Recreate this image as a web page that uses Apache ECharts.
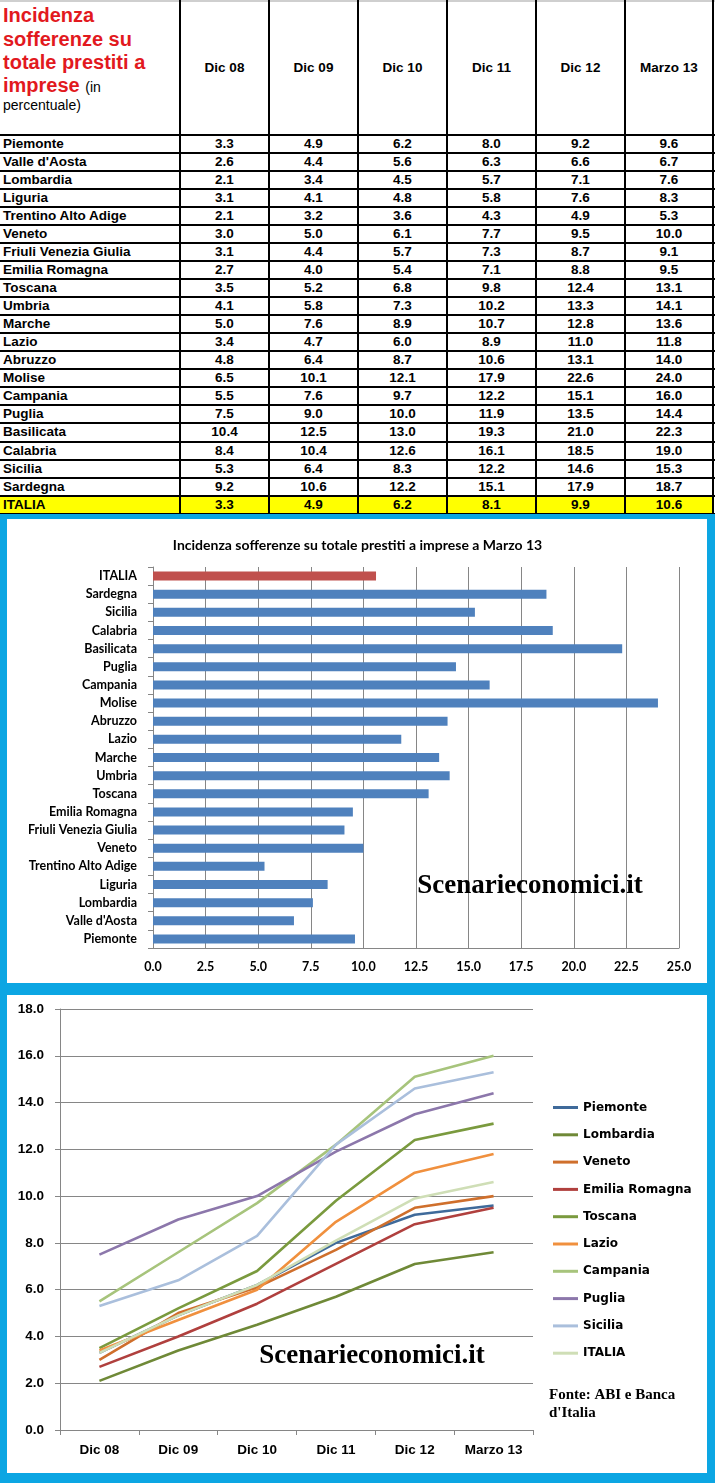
<!DOCTYPE html>
<html>
<head>
<meta charset="utf-8">
<script src="https://cdn.jsdelivr.net/npm/echarts@6.0.0/dist/echarts.min.js"></script>
<style>
  html, body { margin:0; padding:0; background:#fff; }
  #page { position:relative; width:715px; height:1483px; overflow:hidden; }
  #tbl { position:absolute; left:0; top:0; width:715px; height:514px; background:#fff; font-family:'Liberation Sans', Arial, sans-serif; }
  #chart { position:absolute; left:0; top:514px; width:715px; height:969px; }
  .ln { position:absolute; background:#000; }
  .tx { position:absolute; white-space:nowrap; font-weight:bold; font-size:13.5px; color:#000; }
</style>
</head>
<body>
<div id="page">
  <div id="tbl"></div>
  <div id="chart"></div>
</div>
<script>
// ---------------- DATA ----------------
const periods = ['Dic 08', 'Dic 09', 'Dic 10', 'Dic 11', 'Dic 12', 'Marzo 13'];
const regions = ['Piemonte', "Valle d'Aosta", 'Lombardia', 'Liguria', 'Trentino Alto Adige', 'Veneto',
  'Friuli Venezia Giulia', 'Emilia Romagna', 'Toscana', 'Umbria', 'Marche', 'Lazio', 'Abruzzo', 'Molise',
  'Campania', 'Puglia', 'Basilicata', 'Calabria', 'Sicilia', 'Sardegna', 'ITALIA'];
const dic08 = [3.3, 2.6, 2.1, 3.1, 2.1, 3.0, 3.1, 2.7, 3.5, 4.1, 5.0, 3.4, 4.8, 6.5, 5.5, 7.5, 10.4, 8.4, 5.3, 9.2, 3.3];
const dic09 = [4.9, 4.4, 3.4, 4.1, 3.2, 5.0, 4.4, 4.0, 5.2, 5.8, 7.6, 4.7, 6.4, 10.1, 7.6, 9.0, 12.5, 10.4, 6.4, 10.6, 4.9];
const dic10 = [6.2, 5.6, 4.5, 4.8, 3.6, 6.1, 5.7, 5.4, 6.8, 7.3, 8.9, 6.0, 8.7, 12.1, 9.7, 10.0, 13.0, 12.6, 8.3, 12.2, 6.2];
const dic11 = [8.0, 6.3, 5.7, 5.8, 4.3, 7.7, 7.3, 7.1, 9.8, 10.2, 10.7, 8.9, 10.6, 17.9, 12.2, 11.9, 19.3, 16.1, 12.2, 15.1, 8.1];
const dic12 = [9.2, 6.6, 7.1, 7.6, 4.9, 9.5, 8.7, 8.8, 12.4, 13.3, 12.8, 11.0, 13.1, 22.6, 15.1, 13.5, 21.0, 18.5, 14.6, 17.9, 9.9];
const mar13 = [9.6, 6.7, 7.6, 8.3, 5.3, 10.0, 9.1, 9.5, 13.1, 14.1, 13.6, 11.8, 14.0, 24.0, 16.0, 14.4, 22.3, 19.0, 15.3, 18.7, 10.6];
const barXTicks = [0, 2.5, 5, 7.5, 10, 12.5, 15, 17.5, 20, 22.5, 25];
const lineYTicks = [0, 2, 4, 6, 8, 10, 12, 14, 16, 18];
const lineRegions = ['Piemonte', 'Lombardia', 'Veneto', 'Emilia Romagna', 'Toscana', 'Lazio', 'Campania', 'Puglia', 'Sicilia', 'ITALIA'];
const tableTitle = ['Incidenza', 'sofferenze su', 'totale prestiti a', 'imprese'];
const tableTitleNote = ['(in', 'percentuale)'];
const barTitle = 'Incidenza sofferenze su totale prestiti a imprese a Marzo 13';
const watermark = 'Scenarieconomici.it';
const sourceNote = ['Fonte: ABI e Banca', "d'Italia"];

// ---------------- STYLE ----------------
const lineColors = ['#3f6a9a', '#6f8937', '#cf6f2c', '#b0403e', '#7a9a3e', '#f0903e', '#a7c47c', '#8c77ab', '#aabfdc', '#cfdeb6'];
const columns = [periods, dic08, dic09, dic10, dic11, dic12, mar13];

// ---------------- TABLE (HTML) ----------------
(function buildTable() {
  const t = document.getElementById('tbl');
  const vx = [180, 269, 358, 447, 536, 625, 713];
  const rowTop = 135, rowH = 18.03, nRows = regions.length;
  function add(cls, css, html) {
    const d = document.createElement('div');
    d.className = cls;
    Object.assign(d.style, css);
    if (html != null) d.innerHTML = html;
    t.appendChild(d);
    return d;
  }
  add('', {position:'absolute', left:'0px', top:(rowTop + (nRows - 1) * rowH) + 'px', width:'713px', height:rowH + 'px', background:'#ffff00'});
  add('ln', {left:'0px', top:'0px', width:'715px', height:'2px', background:'#cfcfcf'});
  for (let k = 0; k <= nRows; k++) {
    const y = rowTop + k * rowH;
    add('ln', {left:'0px', top:(y - 1) + 'px', width:'715px', height:'2px'});
  }
  vx.forEach(x => add('ln', {left:(x - 1) + 'px', top:'0px', width:'2px', height:'514px'}));
  const tc = [15, 38.5, 62, 85];
  tableTitle.forEach((s, i) => {
    let html = s;
    if (i === 3) html = s + ' <span style="font-size:14px;font-weight:normal;color:#000">' + tableTitleNote[0] + '</span>';
    add('tx', {left:'3px', top:(tc[i] - 12) + 'px', lineHeight:'24px', fontSize:'20px', color:'#e2191e'}, html);
  });
  add('tx', {left:'3px', top:(105 - 8) + 'px', lineHeight:'16px', fontSize:'14px', fontWeight:'normal'}, tableTitleNote[1]);
  periods.forEach((p, j) => {
    add('tx', {left:vx[j] + 'px', width:(vx[j + 1] - vx[j]) + 'px', textAlign:'center', top:(68 - 9) + 'px', lineHeight:'18px'}, p);
  });
  regions.forEach((r, i) => {
    const cy = rowTop + i * rowH + rowH / 2;
    add('tx', {left:'3px', top:(cy - 9) + 'px', lineHeight:'18px'}, r);
    for (let j = 1; j < columns.length; j++) {
      add('tx', {left:vx[j - 1] + 'px', width:(vx[j] - vx[j - 1]) + 'px', textAlign:'center', top:(cy - 9) + 'px', lineHeight:'18px'},
        columns[j][i].toFixed(1));
    }
  });
})();

// ---------------- CHARTS ----------------
const chart = echarts.init(document.getElementById('chart'), null, {renderer:'canvas'});
const gray = '#868686';
const lineSeries = lineRegions.map((name, k) => {
  const idx = regions.indexOf(name);
  return {
    name: name,
    type: 'line',
    xAxisIndex: 1, yAxisIndex: 1,
    data: [dic08[idx], dic09[idx], dic10[idx], dic11[idx], dic12[idx], mar13[idx]],
    symbol: 'none',
    color: lineColors[k],
    lineStyle: {width: 2.6, color: lineColors[k]},
    silent: true,
    animation: false
  };
});

const option = {
  animation: false,
  backgroundColor: '#0ca6e3',
  title: {
    text: barTitle, left: 'center', top: 19,
    textStyle: {fontFamily: 'Lato', fontWeight: 'bold', fontSize: 14, color: '#000'}
  },
  graphic: [
    {type: 'rect', z: -10, shape: {x: 7, y: 5, width: 700, height: 464}, style: {fill: '#fff'}},
    {type: 'rect', z: -10, shape: {x: 7, y: 481, width: 700, height: 478}, style: {fill: '#fff'}},
    {type: 'text', z: 100, x: 530, y: 372, style: {text: watermark, fill: '#000', font: 'bold 27px "Liberation Serif", serif', textAlign: 'center', textVerticalAlign: 'middle'}},
    {type: 'text', z: 100, x: 372, y: 842, style: {text: watermark, fill: '#000', font: 'bold 27px "Liberation Serif", serif', textAlign: 'center', textVerticalAlign: 'middle'}},
    {type: 'text', z: 100, x: 549, y: 881, style: {text: sourceNote[0], fill: '#000', font: 'bold 15px "Liberation Serif", serif', textAlign: 'left', textVerticalAlign: 'middle'}},
    {type: 'text', z: 100, x: 549, y: 899, style: {text: sourceNote[1], fill: '#000', font: 'bold 15px "Liberation Serif", serif', textAlign: 'left', textVerticalAlign: 'middle'}}
  ],
  legend: {
    data: lineRegions,
    orient: 'vertical',
    left: 553, top: 586,
    padding: 0,
    icon: 'rect',
    itemWidth: 25, itemHeight: 3,
    itemGap: 12.3,
    textStyle: {fontFamily: 'DejaVu Sans', fontWeight: 'bold', fontSize: 12, color: '#000', lineHeight: 15},
    selectedMode: false
  },
  grid: [
    {left: 153, top: 53, width: 526, height: 381},
    {left: 60, top: 495, width: 473, height: 421}
  ],
  xAxis: [
    {
      gridIndex: 0, type: 'value', min: barXTicks[0], max: barXTicks[barXTicks.length - 1], interval: barXTicks[1] - barXTicks[0],
      axisLine: {show: true, lineStyle: {color: gray, width: 1}},
      axisTick: {show: false},
      splitLine: {show: true, lineStyle: {color: gray, width: 1}},
      axisLabel: {formatter: v => v.toFixed(1), fontFamily: 'Lato', fontWeight: 'bold', fontSize: 12.5, color: '#000', margin: 12}
    },
    {
      gridIndex: 1, type: 'category', data: periods, boundaryGap: true,
      axisLine: {show: true, lineStyle: {color: gray, width: 1}},
      axisTick: {show: true, length: 5, lineStyle: {color: gray}},
      axisLabel: {fontFamily: 'Liberation Sans', fontWeight: 'bold', fontSize: 13.5, color: '#000', margin: 13}
    }
  ],
  yAxis: [
    {
      gridIndex: 0, type: 'category', data: regions,
      axisLine: {show: true, lineStyle: {color: gray, width: 1}},
      axisTick: {show: true, length: 5, lineStyle: {color: gray}},
      splitLine: {show: false},
      axisLabel: {fontFamily: 'Lato', fontWeight: 'bold', fontSize: 12.5, color: '#000', margin: 16}
    },
    {
      gridIndex: 1, type: 'value', min: lineYTicks[0], max: lineYTicks[lineYTicks.length - 1], interval: lineYTicks[1] - lineYTicks[0],
      axisLine: {show: true, lineStyle: {color: gray, width: 1}},
      axisTick: {show: true, length: 5, lineStyle: {color: gray}},
      splitLine: {show: true, lineStyle: {color: gray, width: 1}},
      axisLabel: {formatter: v => v.toFixed(1), fontFamily: 'Liberation Sans', fontWeight: 'bold', fontSize: 13.5, color: '#000', margin: 16}
    }
  ],
  series: [
    {
      type: 'bar', xAxisIndex: 0, yAxisIndex: 0,
      data: mar13.map((v, i) => ({value: v, itemStyle: {color: regions[i] === 'ITALIA' ? '#c0504d' : '#4f81bd'}})),
      barWidth: 9,
      silent: true
    }
  ].concat(lineSeries)
};
chart.setOption(option);
</script>
</body>
</html>
